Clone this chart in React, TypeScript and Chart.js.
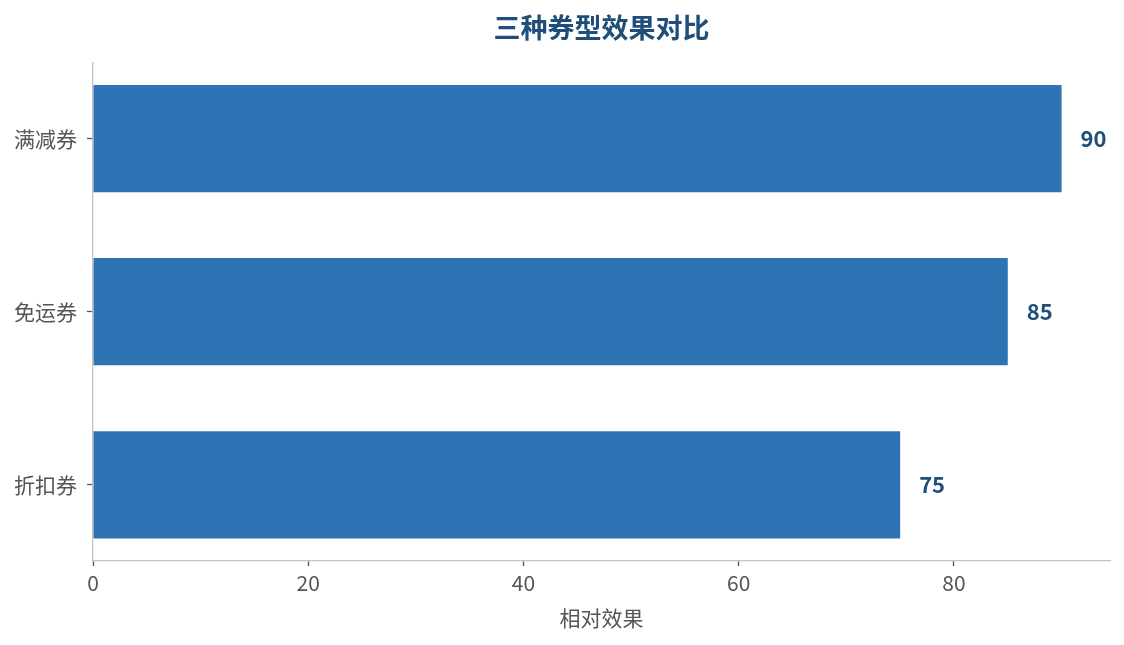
import { useEffect, useRef } from "react"
import { Chart, registerables } from "chart.js"

Chart.register(...registerables)

const categories = ["满减券", "免运券", "折扣券"]
const effectValues = [90, 85, 75]
const xTicks = [0, 20, 40, 60, 80]

const FONT = "'Noto Sans CJK SC', 'Noto Sans', sans-serif"

const valueLabels = {
  id: "valueLabels",
  afterDatasetsDraw(chart: any) {
    const ctx = chart.ctx
    const meta = chart.getDatasetMeta(0)
    ctx.save()
    ctx.font = `bold 22px ${FONT}`
    ctx.fillStyle = "#1F4E79"
    ctx.textAlign = "left"
    ctx.textBaseline = "middle"
    meta.data.forEach((bar: any, i: number) => {
      ctx.fillText(String(effectValues[i]), bar.x + 19, bar.y)
    })
    ctx.restore()
  },
}

export default function App() {
  const chartRef = useRef<HTMLCanvasElement>(null)
  const chartInstance = useRef<Chart | null>(null)

  useEffect(() => {
    document.body.style.margin = "0"
    if (!chartRef.current) return
    const ctx = chartRef.current.getContext("2d")
    if (!ctx) return

    if (chartInstance.current) {
      chartInstance.current.destroy()
    }

    chartInstance.current = new Chart(ctx, {
      type: "bar",
      data: {
        datasets: [
          {
            label: "相对效果",
            data: effectValues.map((v, i) => ({ x: v, y: i })),
            backgroundColor: "#2E74B5",
            borderWidth: 0,
            barPercentage: 0.62,
            categoryPercentage: 1,
          },
        ],
      },
      options: {
        indexAxis: "y",
        animation: false,
        responsive: true,
        maintainAspectRatio: false,
        layout: {
          padding: { top: 0, right: 14, bottom: 0, left: 0 },
        },
        plugins: {
          legend: { display: false },
          tooltip: { enabled: false },
          title: {
            display: true,
            text: "三种券型效果对比",
            fullSize: false,
            color: "#1F4E79",
            font: { family: FONT, size: 27, weight: "bold" },
            padding: { top: 12, bottom: 18 },
          },
        },
        scales: {
          x: {
            type: "linear",
            min: 0,
            max: 94.5,
            afterBuildTicks: (scale: any) => {
              scale.ticks = xTicks.map((v) => ({ value: v }))
            },
            afterFit: (scale: any) => {
              scale.height = 84
            },
            grid: {
              drawOnChartArea: false,
              drawTicks: true,
              tickLength: 5,
              tickColor: "#555555",
              tickWidth: 1.3,
            },
            border: { display: true, color: "#C4C4C4", width: 1.3 },
            ticks: {
              color: "#555555",
              padding: 4,
              font: { family: FONT, size: 21 },
            },
            title: {
              display: true,
              text: "相对效果",
              color: "#555555",
              font: { family: FONT, size: 21 },
              padding: { top: 4, bottom: 14 },
            },
          },
          y: {
            type: "linear",
            reverse: true,
            offset: false,
            min: -0.44,
            max: 2.44,
            afterBuildTicks: (scale: any) => {
              scale.ticks = categories.map((_, i) => ({ value: i }))
            },
            afterFit: (scale: any) => {
              scale.width = 93
            },
            grid: {
              offset: false,
              drawOnChartArea: false,
              drawTicks: true,
              tickLength: 6,
              tickColor: "#555555",
              tickWidth: 1.3,
            },
            border: { display: true, color: "#C4C4C4", width: 1.3 },
            ticks: {
              color: "#555555",
              padding: 10,
              font: { family: FONT, size: 21 },
              callback: (value: any) => categories[Number(value)] ?? "",
            },
          },
        },
      },
      plugins: [valueLabels],
    })

    return () => {
      if (chartInstance.current) {
        chartInstance.current.destroy()
        chartInstance.current = null
      }
    }
  }, [])

  return (
    <div style={{ width: 1124, height: 645, position: "relative", background: "#fff" }}>
      <canvas ref={chartRef} />
    </div>
  )
}
